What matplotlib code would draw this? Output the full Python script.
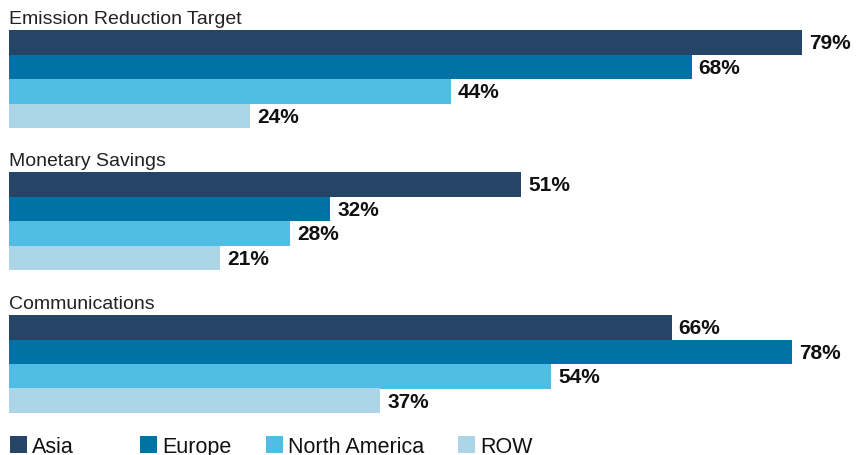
import matplotlib
matplotlib.use('Agg')
import matplotlib.pyplot as plt
from matplotlib.patches import Rectangle

plt.rcParams['font.family'] = ['Liberation Sans', 'DejaVu Sans']

groups = ['Emission Reduction Target', 'Monetary Savings', 'Communications']
regions = ['Asia', 'Europe', 'North America', 'ROW']
colors = ['#264466', '#0072A3', '#50BDE4', '#ADD5E8']
values = {
    'Emission Reduction Target': [79, 68, 44, 24],
    'Monetary Savings': [51, 32, 28, 21],
    'Communications': [66, 78, 54, 37],
}

W, H = 859, 456
PX_PER_PCT = 10.04
LEFT = 9
group_tops = [31, 173, 316]
bar_h = 24.5

fig = plt.figure(figsize=(W / 100, H / 100), dpi=100)
ax = fig.add_axes([LEFT / W, 0, (W - LEFT) / W, 1])
ax.set_xlim(0, (W - LEFT) / PX_PER_PCT)
ax.set_ylim(H, 0)
ax.axis('off')

for gi, g in enumerate(groups):
    top = group_tops[gi]
    ax.text(0, top - 7, g, fontsize=14, color='#222222', va='baseline', ha='left')
    for ri, v in enumerate(values[g]):
        y = top + ri * bar_h
        ax.barh(y, v, height=bar_h, align='edge', color=colors[ri], linewidth=0)
        ax.text(v + 0.7, y + bar_h / 2 + 0.5, f'{v}%', fontsize=15, fontweight='bold',
                color='#111111', va='center', ha='left')

# legend row along the bottom edge
leg_x = [1, 131, 257, 449]
for ri, name in enumerate(regions):
    x0 = leg_x[ri] / PX_PER_PCT
    ax.add_patch(Rectangle((x0, 437), 17 / PX_PER_PCT, 17, color=colors[ri], lw=0, clip_on=False))
    ax.text(x0 + 22 / PX_PER_PCT, 453.5, name, fontsize=15.5, color='#111111',
            va='baseline', ha='left')

fig.savefig('out.png', dpi=100)
